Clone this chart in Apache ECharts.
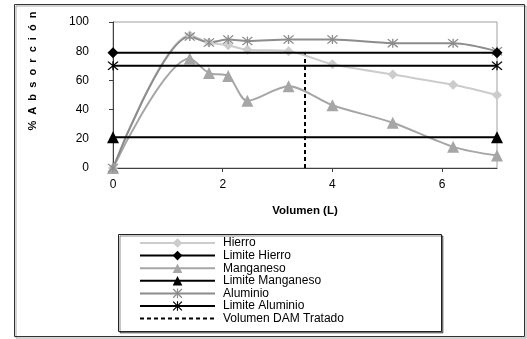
<!DOCTYPE html>
<html>
<head>
<meta charset="utf-8">
<script src="https://cdn.jsdelivr.net/npm/echarts@6/dist/echarts.min.js"></script>
<style>
  html, body { margin: 0; padding: 0; background: #fff; }
  #chart { width: 527px; height: 339px; }
</style>
</head>
<body>
<div id="chart"></div>
<script>
// Treated volume (L) at each sampling point
var volumen = [0, 1.4, 1.75, 2.1, 2.45, 3.2, 4.0, 5.1, 6.2, 7.0];

// Absorption percentage per metal
var hierro    = [0, 91, 86, 84, 81, 80, 71, 64, 57, 50];
var manganeso = [0, 75, 65, 63, 46, 56, 43, 31, 14.5, 8.5];
var aluminio  = [0, 90, 86, 88, 87, 88, 88, 85.5, 85.5, 80];

// Regulatory limits (horizontal reference lines from 0 to 7 L)
var limiteX = [0, 7];
var limiteHierro = 79;
var limiteManganeso = 21;
var limiteAluminio = 70;

// Treated DAM volume marker
var volumenTratado = 3.5;

var yTicks = [0, 20, 40, 60, 80, 100];
var xTicks = [0, 2, 4, 6];

function pairs(xs, ys) {
  return xs.map(function (x, i) { return [x, ys[i]]; });
}
function flat(xs, v) {
  return xs.map(function (x) { return [x, v]; });
}

// asterisk marker built from three bars
var asterisk = 'path://M4.4 0 H5.6 V10 H4.4 Z M0 0.9 L0.9 0 L10 9.1 L9.1 10 Z M9.1 0 L10 0.9 L0.9 10 L0 9.1 Z';

var chart = echarts.init(document.getElementById('chart'), null, { renderer: 'canvas' });

var FONT = 'Liberation Sans, Arial, sans-serif';

var option = {
  animation: false,
  backgroundColor: '#fff',
  textStyle: { fontFamily: FONT },
  grid: {
    left: 113, right: 30, top: 22, bottom: 171,
    show: true, borderColor: '#a0a0a0', borderWidth: 1
  },
  xAxis: {
    type: 'value',
    min: 0, max: 7, interval: 2,
    name: 'Volumen (L)',
    nameLocation: 'middle',
    nameGap: 37,
    nameTextStyle: { fontFamily: FONT, fontSize: 11.5, fontWeight: 'bold', color: '#000' },
    axisLine: { show: true, onZero: false, lineStyle: { color: '#404040', width: 1 } },
    axisTick: { show: true, inside: false, length: 4, lineStyle: { color: '#404040' } },
    axisLabel: {
      margin: 11, fontFamily: FONT, fontSize: 12, color: '#000',
      showMaxLabel: false,
      formatter: function (v) { return xTicks.indexOf(v) >= 0 ? String(v) : ''; }
    },
    splitLine: { show: false }
  },
  yAxis: {
    type: 'value',
    min: 0, max: 100, interval: 20,
    axisLine: { show: true, lineStyle: { color: '#404040', width: 1 } },
    axisTick: { show: true, inside: false, length: 4, lineStyle: { color: '#404040' } },
    axisLabel: {
      margin: 24, fontFamily: FONT, fontSize: 12, color: '#000',
      formatter: function (v) { return yTicks.indexOf(v) >= 0 ? String(v) : ''; }
    },
    splitLine: { show: false }
  },
  legend: {
    orient: 'vertical',
    left: 139, top: 237,
    itemWidth: 75, itemHeight: 12, itemGap: 0.6,
    padding: 0,
    textStyle: { fontFamily: FONT, fontSize: 12, color: '#000', lineHeight: 12, padding: [0, 0, 0, 3] },
    data: ['Hierro', 'Limite Hierro', 'Manganeso', 'Limite Manganeso', 'Aluminio', 'Limite Aluminio', 'Volumen DAM Tratado']
  },
  graphic: [
    {
      type: 'rect', z: -1,
      shape: { x: 14.5, y: 4.5, width: 510, height: 332 },
      style: { fill: 'none', stroke: '#333', lineWidth: 1, shadowColor: 'rgba(0,0,0,0.35)', shadowOffsetX: 1.5, shadowOffsetY: 1.5 }
    },
    {
      type: 'rect', z: -1,
      shape: { x: 118.5, y: 234.5, width: 323, height: 97 },
      style: { fill: '#fff', stroke: '#222', lineWidth: 1, shadowColor: 'rgba(0,0,0,0.45)', shadowOffsetX: 1.5, shadowOffsetY: 1.5 }
    },
    {
      // y axis title, letter-spaced and rotated
      type: 'text',
      x: 33, y: 71,
      rotation: Math.PI / 2,
      style: {
        text: '%  A  b  s  o  r  c  i  ó  n',
        fontFamily: FONT, fontSize: 11, fontWeight: 'bold', fill: '#000',
        align: 'center', verticalAlign: 'middle'
      }
    }
  ],
  series: [
    {
      name: 'Hierro', type: 'line', smooth: 0.3,
      data: pairs(volumen, hierro),
      symbol: 'diamond', symbolSize: 10, showAllSymbol: true,
      lineStyle: { color: '#cccccc', width: 2 },
      itemStyle: { color: '#cccccc' }, z: 3
    },
    {
      name: 'Limite Hierro', type: 'line',
      data: flat(limiteX, limiteHierro),
      symbol: 'diamond', symbolSize: 11,
      lineStyle: { color: '#000', width: 2 },
      itemStyle: { color: '#000' }, z: 4
    },
    {
      name: 'Manganeso', type: 'line', smooth: 0.3,
      data: pairs(volumen, manganeso),
      symbol: 'triangle', symbolSize: 12, showAllSymbol: true,
      lineStyle: { color: '#a6a6a6', width: 2 },
      itemStyle: { color: '#a6a6a6' }, z: 3
    },
    {
      name: 'Limite Manganeso', type: 'line',
      data: flat(limiteX, limiteManganeso),
      symbol: 'triangle', symbolSize: 12,
      lineStyle: { color: '#000', width: 2 },
      itemStyle: { color: '#000' }, z: 4
    },
    {
      name: 'Aluminio', type: 'line', smooth: 0.3,
      data: pairs(volumen, aluminio),
      symbol: asterisk, symbolSize: [11, 9], showAllSymbol: true,
      lineStyle: { color: '#8c8c8c', width: 2 },
      itemStyle: { color: '#8c8c8c' }, z: 3
    },
    {
      name: 'Limite Aluminio', type: 'line',
      data: flat(limiteX, limiteAluminio),
      symbol: asterisk, symbolSize: [11, 9],
      lineStyle: { color: '#000', width: 2 },
      itemStyle: { color: '#000' }, z: 4
    },
    {
      name: 'Volumen DAM Tratado', type: 'line',
      data: [[volumenTratado, 0], [volumenTratado, limiteHierro]],
      symbol: 'none',
      lineStyle: { color: '#000', width: 2, type: [4, 3] },
      itemStyle: { color: 'rgba(0,0,0,0)' }, z: 2
    }
  ]
};

chart.setOption(option);
</script>
</body>
</html>
